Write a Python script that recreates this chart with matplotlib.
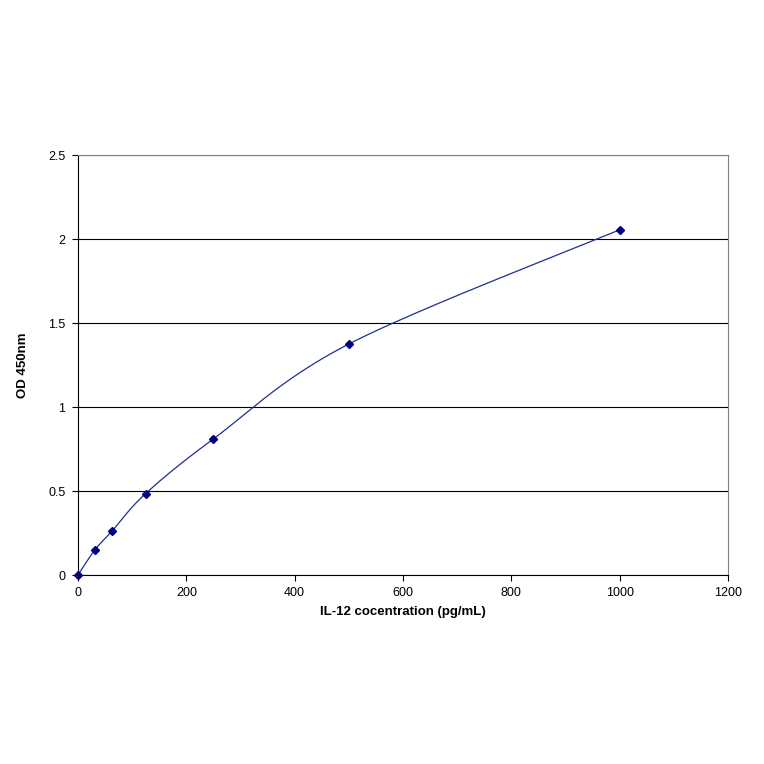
import numpy as np
import matplotlib
matplotlib.use("Agg")
import matplotlib.pyplot as plt

conc = [0, 31.25, 62.5, 125, 250, 500, 1000]
od = [0.0, 0.15, 0.26, 0.485, 0.81, 1.375, 2.055]
xticks = [0, 200, 400, 600, 800, 1000, 1200]
yticks = [0, 0.5, 1, 1.5, 2, 2.5]

plt.rcParams['font.family'] = ['Liberation Sans', 'DejaVu Sans']
fig = plt.figure(figsize=(7.64, 7.64), dpi=100)
ax = fig.add_axes([78/764, 1-575/764, 650/764, 420/764])

# Excel-style smoothed line (Catmull-Rom Bezier, tension 1/6)
x = np.array(conc, float); y = np.array(od, float)
px = np.concatenate([[x[0]], x, [x[-1]]]); py = np.concatenate([[y[0]], y, [y[-1]]])
sx, sy = [], []
t = np.linspace(0, 1, 40)
for i in range(1, len(px) - 2):
    p0 = np.array([px[i], py[i]]); p3 = np.array([px[i+1], py[i+1]])
    c1 = p0 + (np.array([px[i+1], py[i+1]]) - np.array([px[i-1], py[i-1]])) / 6
    c2 = p3 - (np.array([px[i+2], py[i+2]]) - np.array([px[i], py[i]])) / 6
    b = ((1-t)**3)[:, None]*p0 + (3*(1-t)**2*t)[:, None]*c1 + (3*(1-t)*t**2)[:, None]*c2 + (t**3)[:, None]*p3
    sx.extend(b[:, 0]); sy.extend(b[:, 1])
ax.plot(sx, sy, color='#1f2f8f', lw=0.9)
ax.plot(conc, od, 'D', color='#000080', ms=4, zorder=3, clip_on=False)

ax.set_xlim(0, 1200); ax.set_ylim(0, 2.5)
ax.set_xticks(xticks); ax.set_yticks(yticks)
ax.set_xticklabels([str(v) for v in xticks])
ax.set_yticklabels(['0', '0.5', '1', '1.5', '2', '2.5'])
ax.grid(axis='y', color='black', lw=0.8)
ax.set_axisbelow(True)
for s in ax.spines.values():
    s.set_color('#808080'); s.set_linewidth(0.8)
ax.spines['left'].set_color('black'); ax.spines['bottom'].set_color('black')
ax.tick_params(labelsize=9, length=4, direction='out', pad=5)
ax.set_xlabel('IL-12 cocentration (pg/mL)', fontsize=9.5, fontweight='bold', labelpad=5)
ax.set_ylabel('OD 450nm', fontsize=9.5, fontweight='bold', labelpad=14)
fig.savefig('out.png', dpi=100)
